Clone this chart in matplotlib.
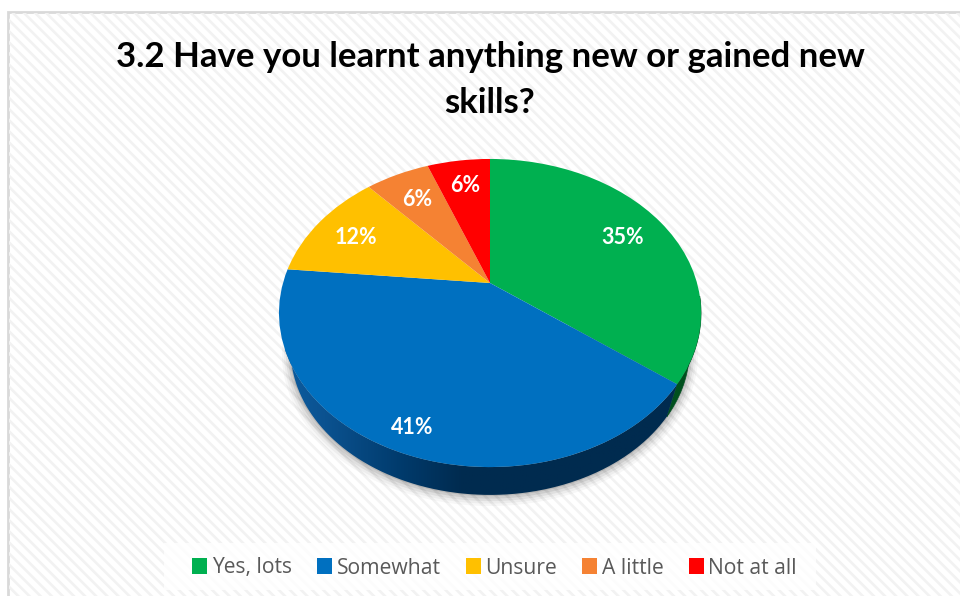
import matplotlib
matplotlib.use('Agg')
import matplotlib.pyplot as plt
import numpy as np
from matplotlib.colors import LinearSegmentedColormap
from matplotlib.patches import Patch, Polygon, Rectangle
from matplotlib.transforms import Transform

plt.rcParams['font.family'] = ['Lato', 'DejaVu Sans']
plt.rcParams['hatch.linewidth'] = 1.9

categories = ['Yes, lots', 'Somewhat', 'Unsure', 'A little', 'Not at all']
values = [35.3, 41.2, 11.8, 5.9, 5.8]
labels = ['35%', '41%', '12%', '6%', '6%']
colors = ['#00B050', '#0070C0', '#FFC000', '#F58233', '#FF0000']
title_lines = ['3.2 Have you learnt anything new or gained new', 'skills?']

# where the labels sit, in pixels
label_pos = [(623, 237), (412, 427), (356, 237), (417, 199), (465, 186)]

# 3D pie look: apex and tilt of the disc, in pixels
APEX = (490, 283)
A, B, K = 207, 148.2, 0.1948
# lower rim is a bit smaller and shifted down
RIM_SCALE, RIM_DROP = 0.945, 38


class Tilt(Transform):
    # unit circle -> tilted pie on the pixel grid
    input_dims = output_dims = 2
    has_inverse = False

    def __init__(self, scale=1, dy=0):
        super().__init__()
        self.scale = scale
        self.dy = dy

    def transform_non_affine(self, xy):
        xy = np.asarray(xy, dtype=float)
        d = 1 + K * xy[:, 1]
        return np.column_stack([APEX[0] + self.scale * A * xy[:, 0] / d,
                                APEX[1] - self.scale * B * xy[:, 1] / d + self.dy])


def arc(t0, t1, scale=1, dy=0):
    t = np.radians(np.linspace(t0, t1, 80))
    return Tilt(scale, dy).transform_non_affine(np.column_stack([np.cos(t), np.sin(t)]))


def wall(t0, t1):
    return np.vstack([arc(t0, t1), arc(t1, t0, RIM_SCALE, RIM_DROP)])


fig = plt.figure(figsize=(9.6, 5.96), dpi=100)
ax = fig.add_axes([0, 0, 1, 1])

wedges, _ = ax.pie(values, colors=colors, startangle=90, counterclock=False,
                   radius=1, wedgeprops={'linewidth': 0})
for w in wedges:
    w.set_transform(Tilt() + ax.transData)
    w.set_zorder(5)

ax.set_aspect('auto')
ax.set_xlim(0, 960)
ax.set_ylim(596, 0)
ax.axis('off')

# panel with light diagonal stripes
ax.add_patch(Rectangle((8, 12), 960, 600, facecolor='white', edgecolor='#D9D9D9',
                       linewidth=2, zorder=0))
ax.add_patch(Rectangle((9, 13), 960, 600, facecolor='none', edgecolor='#F2F2F2',
                       hatch='\\\\\\', linewidth=0, zorder=0.5))

# soft shadow under the wall
for grow, alpha in zip([9, 7, 5, 3, 1], [0.03, 0.04, 0.06, 0.08, 0.10]):
    pts = arc(-2, -178, RIM_SCALE + grow / 220, RIM_DROP + grow * 0.4)
    ax.add_patch(Polygon(pts, closed=True, facecolor='black', edgecolor='none',
                         alpha=alpha, zorder=1))

# side walls
split = 90 - 3.6 * values[0]
green_wall = Polygon(wall(-5, split), closed=True, facecolor='#00501E',
                     edgecolor='#00501E', linewidth=0.5, zorder=3)
ax.add_patch(green_wall)

blue_wall = Polygon(wall(split, -175), closed=True, facecolor='none',
                    edgecolor='none', zorder=3)
ax.add_patch(blue_wall)
blue_cmap = LinearSegmentedColormap.from_list(
    'side', [(0, '#0C5C9F'), (0.1, '#0B5290'), (0.3, '#003A6B'), (0.45, '#002B4F'), (1, '#002B4F')])
img = ax.imshow(np.linspace(0, 1, 256)[None, :], cmap=blue_cmap, aspect='auto',
                extent=(285, 680, 500, 300), zorder=3)
img.set_clip_path(blue_wall)
ax.set_xlim(0, 960)
ax.set_ylim(596, 0)

for (x, y), s in zip(label_pos, labels):
    ax.text(x, y, s, color='white', fontsize=15.5, fontweight='bold',
            ha='center', va='center', zorder=6)

for y, line in zip([57, 103], title_lines):
    ax.text(490, y, line, ha='center', va='center', fontsize=25, fontweight='bold',
            color='black', zorder=6)

# legend, on its own pale band
ax.add_patch(Rectangle((164, 543), 652, 47, facecolor='white', edgecolor='none',
                       alpha=0.8, zorder=4))
handles = [Patch(facecolor=c, edgecolor='none') for c in colors]
leg = ax.legend(handles, categories, ncol=5, loc='center', bbox_to_anchor=(494.5, 568),
                bbox_transform=ax.transData, frameon=False, labelcolor='#595959',
                handlelength=0.72, handleheight=0.78, handletextpad=0.22, columnspacing=1.18,
                borderpad=0, prop={'family': 'Open Sans', 'size': 15.2})
leg.set_zorder(6)

fig.savefig('out.png', dpi=100)
